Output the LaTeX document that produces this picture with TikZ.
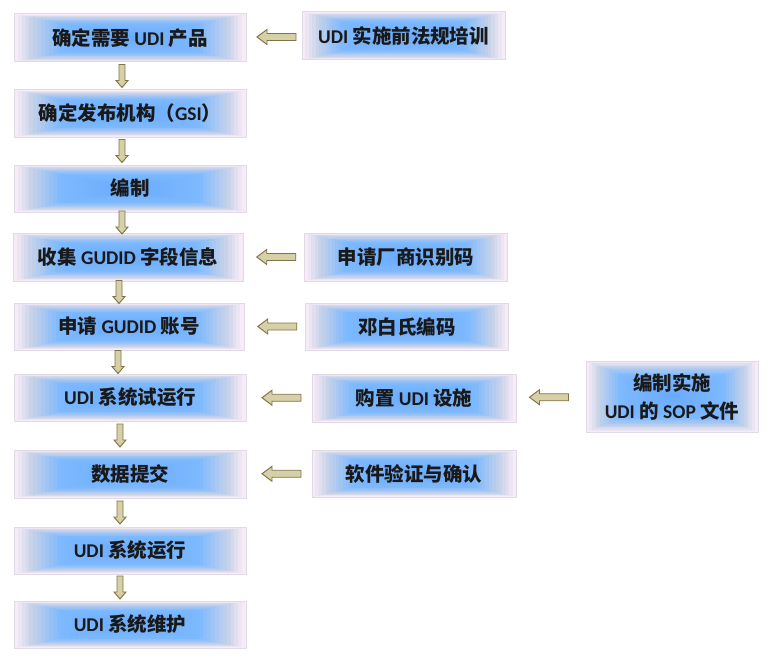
\documentclass[tikz,border=0pt]{standalone}
\usepackage{fontspec}
\setmainfont{Carlito}
\newfontfamily\cjkf{Noto Sans CJK SC}
\usetikzlibrary{calc}
\newcommand\zh[1]{{\cjkf #1}}
\definecolor{lav}{RGB}{247,235,247}
\definecolor{gry}{RGB}{198,210,232}
\definecolor{blu}{RGB}{126,185,255}
\definecolor{blu2}{RGB}{104,170,252}
\definecolor{boxline}{RGB}{226,218,228}
\definecolor{txt}{RGB}{25,25,25}
\definecolor{arrowfill}{RGB}{214,208,168}
\definecolor{arrowline}{RGB}{128,116,70}
\newcommand\rectgrad{%
  \foreach \k in {0,...,30}{%
    \pgfmathsetmacro\gradT{1-\k/30}%
    \ifdim\gradT pt>0.86pt
      \pgfmathsetmacro\gradP{(\gradT-0.86)/0.14*100}\colorlet{gc}{lav!\gradP!gry}%
    \else\ifdim\gradT pt>0.62pt
      \pgfmathsetmacro\gradP{(\gradT-0.62)/0.24*100}\colorlet{gc}{gry!\gradP!blu}%
    \else
      \pgfmathsetmacro\gradP{\gradT/0.62*100}\colorlet{gc}{blu!\gradP!blu2}%
    \fi\fi
    \fill[gc] ($(path picture bounding box.center)!\gradT!(path picture bounding box.south west)$) rectangle ($(path picture bounding box.center)!\gradT!(path picture bounding box.north east)$);
  }}
\tikzset{
  flowbox/.style 2 args={draw=boxline, line width=0.75pt, inner sep=0pt,
    minimum width=#1*0.75pt, minimum height=#2*0.75pt, align=center,
    path picture={\rectgrad}, text=txt,
    font=\bfseries\fontsize{14.6}{21}\selectfont},
  blockarrow/.style={fill=arrowfill, draw=arrowline, line width=0.7pt, line join=miter}
}
\newcommand\vconn[3]{%
  \coordinate (m) at ($(#1.south)!0.5!(#2.north)$);
  \coordinate (vx) at (#3,0);
  \begin{scope}[shift={(vx |- m)}]
    \draw[blockarrow] (-3,-11.5) -- (3,-11.5) -- (3,4.5) -- (6,4.5) -- (0,11.5) -- (-6,4.5) -- (-3,4.5) -- cycle;
  \end{scope}}
\newcommand\hconn[3]{%
  \coordinate (m) at ($(#2.east)!0.5!(#1.west)$);
  \begin{scope}[shift={($(m)+(#3,0)$)}]
    \draw[blockarrow] (-19.5,0) -- (-9.5,-7.5) -- (-9.5,-3.5) -- (19.5,-3.5) -- (19.5,3.5) -- (-9.5,3.5) -- (-9.5,7.5) -- cycle;
  \end{scope}}
\begin{document}
\begin{tikzpicture}[x=0.75pt,y=-0.75pt]
\useasboundingbox (0,0) rectangle (778,667);
\fill[white] (0,0) rectangle (778,667);
% left column
\node[flowbox={232}{48}] (l1) at (130,38) {\zh{确定需要} UDI \zh{产品}};
\node[flowbox={232}{47}] (l2) at (130,113.5) {\zh{确定发布机构（}GSI\zh{）}};
\node[flowbox={232}{47}] (l3) at (130,188.5) {\zh{编制}};
\node[flowbox={230}{48}] (l4) at (128,257) {\zh{收集} GUDID \zh{字段信息}};
\node[flowbox={230}{47}] (l5) at (129,326.5) {\zh{申请} GUDID \zh{账号}};
\node[flowbox={232}{47}] (l6) at (130,397.5) {UDI \zh{系统试运行}};
\node[flowbox={232}{48}] (l7) at (130,474) {\zh{数据提交}};
\node[flowbox={232}{47}] (l8) at (130,550.5) {UDI \zh{系统运行}};
\node[flowbox={232}{47}] (l9) at (130,624.5) {UDI \zh{系统维护}};
% right column
\node[flowbox={203}{48}] (r1) at (403.5,36) {UDI \zh{实施前法规培训}};
\node[flowbox={203}{48}] (r4) at (406,257) {\zh{申请厂商识别码}};
\node[flowbox={203}{47}] (r5) at (407,326.5) {\zh{邓白氏编码}};
\node[flowbox={204}{48}] (r6) at (414,398) {\zh{购置} UDI \zh{设施}};
\node[flowbox={204}{47}] (r7) at (414,473.5) {\zh{软件验证与确认}};
\node[flowbox={172}{71}] (sop) at (672,396.5) {\zh{编制实施}\\UDI \zh{的} SOP \zh{文件}};
% vertical arrows
\vconn{l1}{l2}{122}
\vconn{l2}{l3}{122}
\vconn{l3}{l4}{122}
\vconn{l4}{l5}{119}
\vconn{l5}{l6}{118}
\vconn{l6}{l7}{120}
\vconn{l7}{l8}{120}
\vconn{l8}{l9}{120}
% horizontal arrows
\hconn{r1}{l1}{2.5}
\hconn{r4}{l4}{2.5}
\hconn{r5}{l5}{2.5}
\hconn{r6}{l6}{2.5}
\hconn{r7}{l7}{2.5}
\hconn{sop}{r6}{-2}
\end{tikzpicture}
\end{document}
